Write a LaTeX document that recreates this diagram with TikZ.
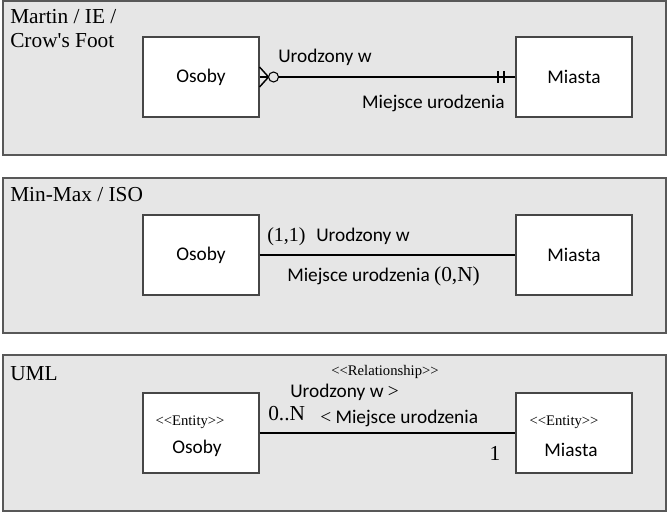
\documentclass[tikz,border=0pt]{standalone}
\usepackage{fontspec}
\setmainfont{Liberation Serif}
\setsansfont{Carlito}
\usetikzlibrary{positioning, calc}
\usepackage{xcolor}
\definecolor{panelgray}{RGB}{230,230,230}
\definecolor{framegray}{RGB}{88,88,88}
\definecolor{boxgray}{RGB}{70,70,70}
\newcommand\stereotype[1]{<\kern0pt<#1>\kern0pt>}

\begin{document}
\begin{tikzpicture}[x=0.75pt, y=-0.75pt,
  panel/.style={draw=framegray, line width=1.5pt, fill=panelgray},
  entity/.style={draw=boxgray, line width=0.8pt, fill=white, minimum width=87pt, minimum height=60pt, inner sep=0pt, align=center, font=\sffamily\fontsize{14.5}{17}\selectfont},
  rel/.style={line width=1.5pt},
  title/.style={anchor=north west, align=left, inner sep=0pt, font=\fontsize{16}{18}\selectfont},
  lbl/.style={inner sep=0pt, font=\sffamily\fontsize{14.5}{17}\selectfont},
  card/.style={inner sep=0pt, font=\fontsize{16}{18}\selectfont},
  stereo/.style={inner sep=0pt, font=\fontsize{11}{13}\selectfont}]
  \fill[white] (0,0) rectangle (669,527);
  \useasboundingbox (0,0) rectangle (669,527);
  % Martin / IE / Crow's Foot
  \draw[panel] (3,1) rectangle (666,155);
  \node[title] (t1) at (10,9) {Martin / IE /\\Crow\textquotesingle s Foot};
  \node[entity] (o1) at (201,77) {Osoby};
  \node[entity] (m1) at (574,77) {Miasta};
  \coordinate (f1) at ($(o1.east)+(9,0)$);
  \draw[line width=1.1pt] ($(o1.east)+(0,-10)$) -- (f1) -- ($(o1.east)+(0,10)$);
  \draw[line width=1.1pt] (o1.east) -- (f1);
  \node[circle, draw, line width=0.8pt, fill=panelgray, minimum size=7.5pt, inner sep=0pt] (z1) at ($(o1.east)+(14,0)$) {};
  \draw[rel] (z1.east) -- (m1.west);
  \draw[rel] ($(m1.west)+(-11,-6)$) -- ($(m1.west)+(-11,6)$);
  \draw[rel] ($(m1.west)+(-17,-6)$) -- ($(m1.west)+(-17,6)$);
  \node[lbl, anchor=west] (u1) at (278,57) {Urodzony w};
  \node[lbl, anchor=east] (w1) at (505,103) {Miejsce urodzenia};
  % Min-Max / ISO
  \draw[panel] (3,178) rectangle (666,333);
  \node[title] (t2) at (10,187) {Min-Max / ISO};
  \node[entity] (o2) at (201,255) {Osoby};
  \node[entity] (m2) at (574,255) {Miasta};
  \draw[rel] (o2.east) -- (m2.west);
  \node[card, anchor=west, font=\fontsize{15}{17}\selectfont] (c2) at (267,237) {(1,1)};
  \node[lbl, anchor=west] (u2) at (316,236) {Urodzony w};
  \node[lbl, anchor=west] (w2) at (287,276) {Miejsce urodzenia \fontsize{16}{18}\rmfamily(0,N)};
  % UML
  \draw[panel] (3,355) rectangle (666,511);
  \node[title] (t3) at (10,366) {UML};
  \node[entity] (o3) at (201,433) {};
  \node[entity] (m3) at (574,433) {};
  \node[stereo] (e3) at ($(o3)+(-11,-11)$) {\stereotype{Entity}};
  \node[lbl] (n3) at ($(o3)+(-4,15)$) {Osoby};
  \node[stereo] (f3) at ($(m3)+(-10,-11)$) {\stereotype{Entity}};
  \node[lbl] (k3) at ($(m3)+(-3,17)$) {Miasta};
  \draw[rel] (o3.east) -- (m3.west);
  \node[stereo] (s3) at (385,372) {\stereotype{Relationship}};
  \node[lbl, anchor=west] (u3) at (290,392) {Urodzony w {\rmfamily>}};
  \node[card, anchor=west] (c3) at (268,414) {0..N};
  \node[lbl, anchor=west] (w3) at (320,418) {{\rmfamily<} Miejsce urodzenia};
  \node[card] (d3) at (495,453) {1};
\end{tikzpicture}
\end{document}
